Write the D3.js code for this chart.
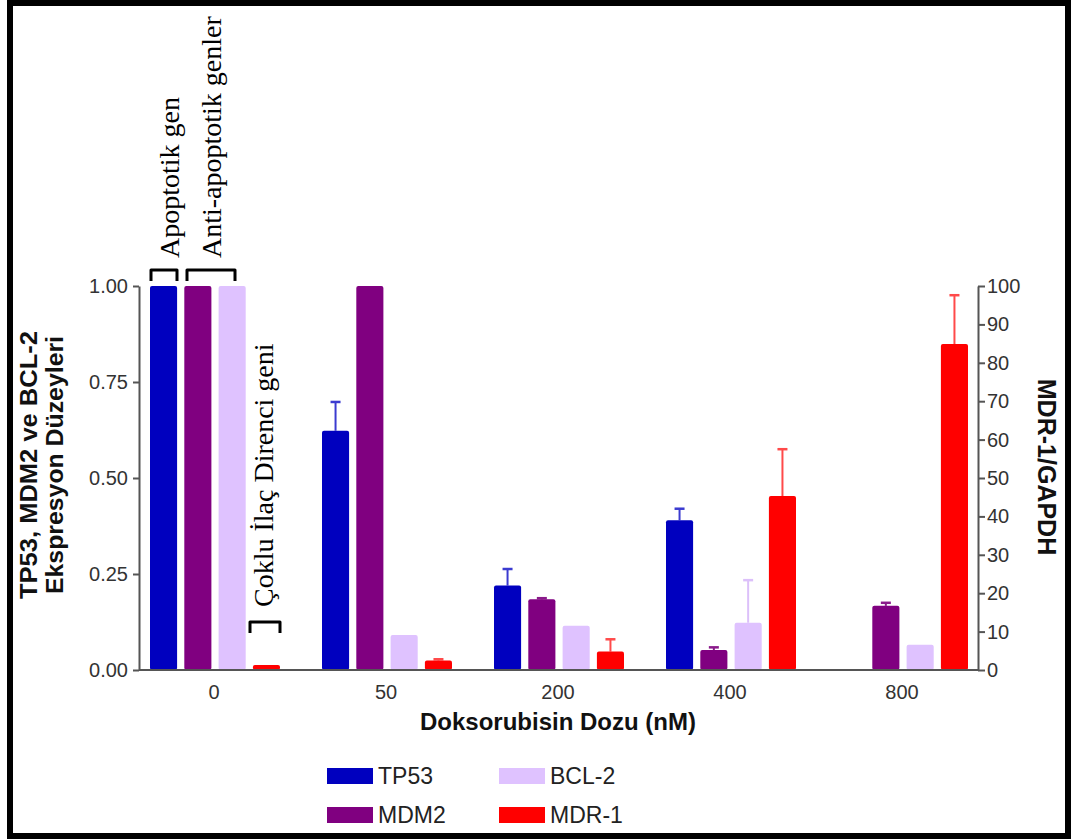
<!DOCTYPE html>
<html>
<head>
<meta charset="utf-8">
<script src="https://cdn.jsdelivr.net/npm/d3@7"></script>
<style>
  body { margin: 0; background: #fff; }
  svg text { font-family: "Liberation Sans", Arial, sans-serif; }
</style>
</head>
<body>
<div id="chart"></div>
<script>
// doses on the x axis
var doses = ["0", "50", "200", "400", "800"];
var seriesNames = ["TP53", "MDM2", "BCL-2", "MDR-1"];
var seriesColors = ["#0000bf", "#800080", "#dfc2ff", "#ff0000"];
var errColors = ["#3b3bd0", "#8a1a8a", "#dcc0fa", "#ff4a4a"];

// left axis values (relative expression)
var tp53 = [1.00, 0.623, 0.220, 0.390, null];
var tp53Err = [0, 0.075, 0.043, 0.030, 0];
var mdm2 = [1.00, 1.00, 0.184, 0.052, 0.167];
var mdm2Err = [0, 0, 0.003, 0.007, 0.008];
var bcl2 = [1.00, 0.091, 0.115, 0.123, 0.066];
var bcl2Err = [0, 0, 0, 0.111, 0];
// right axis values (MDR-1/GAPDH)
var mdr1 = [1.3, 2.5, 4.8, 45.3, 84.9];
var mdr1Err = [0, 0.3, 3.2, 12.2, 12.7];

var leftTicks = [0, 0.25, 0.5, 0.75, 1];
var rightTicks = [0, 10, 20, 30, 40, 50, 60, 70, 80, 90, 100];

var svgWidth = 1071;
var svgHeight = 839;

var svg = d3.select("#chart")
	.append("svg")
	.attr("width", svgWidth)
	.attr("height", svgHeight);

// outer frame
svg.append("rect")
	.attr("x", 10).attr("y", 3)
	.attr("width", 1058).attr("height", 833)
	.attr("fill", "none")
	.attr("stroke", "#000")
	.attr("stroke-width", 6);

var xLeft = 139, xRight = 978, yTop = 286, yBottom = 670;

var xScale = d3.scaleBand()
	.domain(doses)
	.range([128, 988]);

var xSub = d3.scaleBand()
	.domain(seriesNames)
	.range([22, 152])
	.paddingInner(0.21);

var yLeft = d3.scaleLinear().domain([0, 1]).range([yBottom, yTop]);
var yRight = d3.scaleLinear().domain([0, 100]).range([yBottom, yTop]);

// build rows for drawing
var values = [tp53, mdm2, bcl2, mdr1];
var errs = [tp53Err, mdm2Err, bcl2Err, mdr1Err];
var rows = [];
seriesNames.forEach(function(s, si) {
	doses.forEach(function(d, di) {
		if (values[si][di] == null) return;
		rows.push({
			dose: d, series: s, si: si,
			value: values[si][di], err: errs[si][di],
			y: si == 3 ? yRight : yLeft
		});
	});
});

// error bars (behind the bars)
var errRows = rows.filter(function(d) { return d.err > 0; });
var eb = svg.append("g").selectAll("g")
	.data(errRows)
	.enter()
	.append("g");
eb.append("line")
	.attr("x1", function(d) { return xScale(d.dose) + xSub(d.series) + xSub.bandwidth() / 2; })
	.attr("x2", function(d) { return xScale(d.dose) + xSub(d.series) + xSub.bandwidth() / 2; })
	.attr("y1", function(d) { return d.y(d.value); })
	.attr("y2", function(d) { return d.y(d.value + d.err); })
	.attr("stroke", function(d) { return errColors[d.si]; })
	.attr("stroke-width", 2);
eb.append("line")
	.attr("x1", function(d) { return xScale(d.dose) + xSub(d.series) + xSub.bandwidth() / 2 - 5; })
	.attr("x2", function(d) { return xScale(d.dose) + xSub(d.series) + xSub.bandwidth() / 2 + 5; })
	.attr("y1", function(d) { return d.y(d.value + d.err); })
	.attr("y2", function(d) { return d.y(d.value + d.err); })
	.attr("stroke", function(d) { return errColors[d.si]; })
	.attr("stroke-width", 2.5);

// bars
svg.append("g").selectAll("rect")
	.data(rows)
	.enter()
	.append("rect")
	.attr("x", function(d) { return xScale(d.dose) + xSub(d.series); })
	.attr("y", function(d) { return d.y(d.value); })
	.attr("width", xSub.bandwidth())
	.attr("height", function(d) { return yBottom - d.y(d.value); })
	.attr("rx", 2)
	.attr("fill", function(d) { return seriesColors[d.si]; });

// left axis
var leftAxis = d3.axisLeft(yLeft)
	.tickValues(leftTicks)
	.tickFormat(d3.format(".2f"))
	.tickSize(6)
	.tickSizeOuter(0)
	.tickPadding(5);
var gl = svg.append("g")
	.attr("transform", "translate(" + xLeft + ",0)")
	.call(leftAxis);

// right axis
var rightAxis = d3.axisRight(yRight)
	.tickValues(rightTicks)
	.tickSize(7)
	.tickSizeOuter(0)
	.tickPadding(2);
var gr = svg.append("g")
	.attr("transform", "translate(" + xRight + ",0)")
	.call(rightAxis);

// x axis (labels only, the base line drawn separately)
var bottomAxis = d3.axisBottom(xScale)
	.tickSize(0)
	.tickPadding(15);
var gb = svg.append("g")
	.attr("transform", "translate(0," + yBottom + ")")
	.call(bottomAxis);
gb.select(".domain").remove();

svg.append("line")
	.attr("x1", xLeft).attr("x2", xRight)
	.attr("y1", yBottom).attr("y2", yBottom)
	.attr("stroke", "#555").attr("stroke-width", 2);

[gl, gr, gb].forEach(function(g) {
	g.selectAll(".domain").attr("stroke", "#555").attr("stroke-width", 2);
	g.selectAll(".tick line").attr("stroke", "#555").attr("stroke-width", 2);
	g.selectAll(".tick text")
		.attr("fill", "#333")
		.style("font-size", "20px")
		.style("font-family", "'Liberation Sans', Arial, sans-serif");
});

// axis titles
var yTitle = svg.append("text")
	.attr("transform", "translate(37,465) rotate(-90)")
	.attr("text-anchor", "middle")
	.style("font-size", "23px")
	.style("font-weight", "bold")
	.attr("fill", "#111");
yTitle.append("tspan").attr("x", 0).attr("y", 0)
	.attr("textLength", 268).attr("lengthAdjust", "spacingAndGlyphs")
	.text("TP53, MDM2 ve BCL-2");
yTitle.append("tspan").attr("x", 0).attr("y", 26)
	.attr("textLength", 258).attr("lengthAdjust", "spacingAndGlyphs")
	.text("Ekspresyon Düzeyleri");

svg.append("text")
	.attr("transform", "translate(1038,467) rotate(90)")
	.attr("text-anchor", "middle")
	.style("font-size", "25px")
	.style("font-weight", "bold")
	.attr("fill", "#111")
	.text("MDR-1/GAPDH");

svg.append("text")
	.attr("x", 558).attr("y", 730)
	.attr("text-anchor", "middle")
	.style("font-size", "24px")
	.style("font-weight", "bold")
	.attr("fill", "#111")
	.text("Doksorubisin Dozu (nM)");

// annotations for gene groups
var notes = [
	{ text: "Apoptotik gen", x: 179, y: 258 },
	{ text: "Anti-apoptotik genler", x: 221, y: 258 },
	{ text: "Çoklu İlaç Direnci geni", x: 273, y: 607 }
];
svg.append("g").selectAll("text")
	.data(notes)
	.enter()
	.append("text")
	.attr("transform", function(d) { return "translate(" + d.x + "," + d.y + ") rotate(-90)"; })
	.style("font-family", "'Liberation Serif', 'Times New Roman', serif")
	.style("font-size", "28px")
	.attr("fill", "#000")
	.text(function(d) { return d.text; });

var brackets = [
	"M151,281 V270 H177 V281",
	"M187,281 V270 H235 V281",
	"M250,633 V622 H280 V633"
];
svg.append("g").selectAll("path")
	.data(brackets)
	.enter()
	.append("path")
	.attr("d", function(d) { return d; })
	.attr("fill", "none")
	.attr("stroke", "#000")
	.attr("stroke-width", 3)
	.attr("stroke-linejoin", "round");

// legend: two columns
var legendCols = [327, 499];
var legendRows = [768, 807];
var legend = svg.append("g").selectAll("g")
	.data(seriesNames)
	.enter()
	.append("g")
	.attr("transform", function(d, i) {
		var col = (i == 0 || i == 1) ? 0 : 1;
		var row = (i == 0 || i == 2) ? 0 : 1;
		return "translate(" + legendCols[col] + "," + legendRows[row] + ")";
	});
legend.append("rect")
	.attr("width", 46).attr("height", 16)
	.attr("fill", function(d, i) { return seriesColors[i]; });
legend.append("text")
	.attr("x", 51).attr("y", 16)
	.style("font-size", "23px")
	.attr("fill", "#222")
	.text(function(d) { return d; });
</script>
</body>
</html>
